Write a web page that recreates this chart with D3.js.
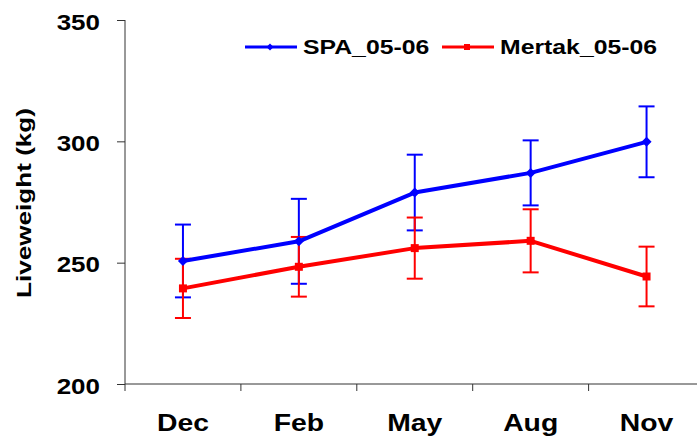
<!DOCTYPE html>
<html>
<head>
<meta charset="utf-8">
<script src="https://cdn.jsdelivr.net/npm/d3@7"></script>
<style>
  body { margin: 0; background: #fff; }
  svg { display: block; font-family: Arial, "Liberation Sans", sans-serif; font-weight: bold; }
</style>
</head>
<body>
<svg id="chart" width="697" height="437"></svg>
<script>
var months = ["Dec", "Feb", "May", "Aug", "Nov"];
var spaMean = [250.7, 258.8, 278.9, 287.0, 299.8];
var spaErr = [15.0, 17.5, 15.6, 13.4, 14.6];
var mertakMean = [239.4, 248.3, 256.0, 259.0, 244.3];
var mertakErr = [12.2, 12.3, 12.6, 13.0, 12.3];
var yTicks = [200, 250, 300, 350];

var series = [
    { name: "SPA_05-06", color: "#0000ff", marker: "diamond", mean: spaMean, err: spaErr },
    { name: "Mertak_05-06", color: "#ff0000", marker: "square", mean: mertakMean, err: mertakErr }
];

var stretch = 1.18; // the original text is drawn a bit wide

var svg = d3.select("#chart");
var axisColor = "#333";

var x = d3.scaleBand().domain(months).range([125, 704.5]);
var y = d3.scaleLinear().domain([200, 350]).range([384, 20]);

function widen(sel) {
    sel.each(function() {
        var w = this.getComputedTextLength();
        d3.select(this).attr("textLength", w * stretch).attr("lengthAdjust", "spacingAndGlyphs");
    });
}

// y axis
var yAxis = svg.append("g")
    .attr("transform", "translate(125,0)")
    .call(d3.axisLeft(y).tickValues(yTicks).tickSize(8).tickPadding(17).tickFormat(d3.format("d")));
yAxis.select(".domain").attr("stroke", axisColor).attr("d", "M0," + y(350) + "V" + y(200));
yAxis.selectAll(".tick line").attr("stroke", axisColor);
yAxis.selectAll(".tick text")
    .attr("fill", "#000")
    .style("font-size", "22px")
    .style("font-weight", "bold")
    .attr("dy", "0.42em")
    .call(widen);

// x axis: labels centred, ticks on band boundaries
var xAxis = svg.append("g")
    .attr("transform", "translate(0,384)")
    .call(d3.axisBottom(x).tickSize(0).tickPadding(47));
xAxis.select(".domain").attr("stroke", axisColor).attr("d", "M125,0H697");
xAxis.selectAll(".tick text")
    .attr("fill", "#000")
    .style("font-size", "24px")
    .style("font-weight", "bold")
    .attr("dy", "0")
    .call(widen);
xAxis.selectAll("line.bound")
    .data(months)
    .enter().append("line")
    .attr("class", "bound")
    .attr("x1", function(d) { return x(d); })
    .attr("x2", function(d) { return x(d); })
    .attr("y1", 0).attr("y2", 7)
    .attr("stroke", axisColor);

// y axis title
svg.append("text")
    .attr("transform", "translate(31,203) rotate(-90)")
    .attr("text-anchor", "middle")
    .style("font-size", "21px")
    .text("Liveweight (kg)")
    .attr("textLength", 190)
    .attr("lengthAdjust", "spacingAndGlyphs");

var line = d3.line()
    .x(function(d, i) { return x(months[i]) + x.bandwidth() / 2; })
    .y(function(d) { return y(d); });

function markerPath(type, s) {
    if (type === "diamond") return "M0," + (-s) + "L" + s + ",0L0," + s + "L" + (-s) + ",0Z";
    return "M" + (-s) + "," + (-s) + "H" + s + "V" + s + "H" + (-s) + "Z";
}

// error bars first
series.forEach(function(s) {
    var g = svg.append("g").attr("stroke", s.color).attr("stroke-width", 2);
    s.mean.forEach(function(m, i) {
        var cx = x(months[i]) + x.bandwidth() / 2;
        var hi = y(m + s.err[i]), lo = y(m - s.err[i]);
        g.append("line").attr("x1", cx).attr("x2", cx).attr("y1", hi).attr("y2", lo);
        g.append("line").attr("x1", cx - 8).attr("x2", cx + 8).attr("y1", hi).attr("y2", hi);
        g.append("line").attr("x1", cx - 8).attr("x2", cx + 8).attr("y1", lo).attr("y2", lo);
    });
});

// lines and markers
series.forEach(function(s) {
    svg.append("path")
        .datum(s.mean)
        .attr("fill", "none")
        .attr("stroke", s.color)
        .attr("stroke-width", 4)
        .attr("stroke-linejoin", "round")
        .attr("d", line);
    svg.selectAll(null)
        .data(s.mean)
        .enter().append("path")
        .attr("transform", function(d, i) {
            return "translate(" + (x(months[i]) + x.bandwidth() / 2) + "," + y(d) + ")";
        })
        .attr("d", markerPath(s.marker, s.marker === "diamond" ? 5 : 4))
        .attr("fill", s.color);
});

// legend
var legendX = [245, 442];
series.forEach(function(s, i) {
    var g = svg.append("g").attr("transform", "translate(" + legendX[i] + ",47)");
    g.append("line").attr("x1", 0).attr("x2", 52).attr("stroke", s.color).attr("stroke-width", 3);
    g.append("path").attr("transform", "translate(25,0)")
        .attr("d", markerPath(s.marker, s.marker === "diamond" ? 3.5 : 3))
        .attr("fill", s.color);
    g.append("text")
        .attr("x", 58).attr("y", 7)
        .style("font-size", "21px")
        .text(s.name)
        .call(widen);
});
</script>
</body>
</html>
